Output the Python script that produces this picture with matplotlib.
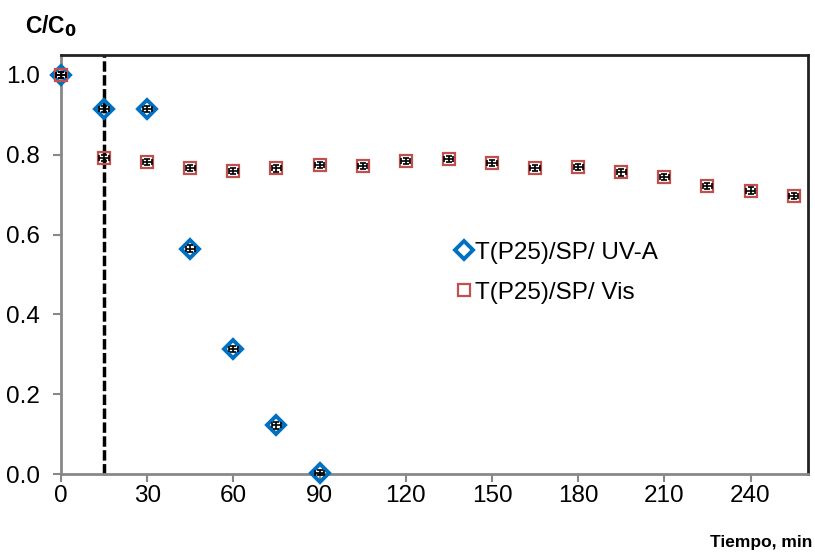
import matplotlib
matplotlib.use("Agg")
import matplotlib.pyplot as plt

plt.rcParams['font.family'] = ['Liberation Sans', 'DejaVu Sans']

# Photocatalytic degradation data: normalized concentration vs time
t_uva = [0, 15, 30, 45, 60, 75, 90]
c_uva = [1.0, 0.915, 0.915, 0.565, 0.313, 0.122, 0.003]
err_uva = [0.008, 0.008, 0.008, 0.008, 0.008, 0.008, 0.006]

t_vis = [0, 15, 30, 45, 60, 75, 90, 105, 120, 135, 150, 165, 180, 195, 210, 225, 240, 255]
c_vis = [1.0, 0.792, 0.782, 0.767, 0.759, 0.766, 0.774, 0.772, 0.784, 0.79, 0.779,
         0.767, 0.770, 0.756, 0.744, 0.722, 0.710, 0.696]
err_vis = [0.008] * len(t_vis)

x_ticks = [0, 30, 60, 90, 120, 150, 180, 210, 240]
y_ticks = [0.0, 0.2, 0.4, 0.6, 0.8, 1.0]
dark_time = 15

labels = ["T(P25)/SP/ UV-A", "T(P25)/SP/ Vis"]

fig = plt.figure(figsize=(8.15, 5.54), dpi=100)
ax = fig.add_axes([0.0748, 0.1444, 0.9166, 0.7563])

ax.axvline(dark_time, color='black', lw=2.5, ls=(0, (3, 1)), zorder=1)

ax.plot(t_uva, c_uva, ls='none', marker='D', ms=9, mfc='none', mec='#0070C0',
        mew=2.8, label=labels[0], zorder=3)
ax.plot(t_vis, c_vis, ls='none', marker='s', ms=8.5, mfc='none', mec='#C0504D',
        mew=1.6, label=labels[1], zorder=3)

ax.errorbar(t_uva, c_uva, yerr=err_uva, xerr=1.6, fmt='none', ecolor='black',
            elinewidth=1.2, capsize=2.5, capthick=1.2, zorder=4)
ax.errorbar(t_vis, c_vis, yerr=err_vis, xerr=1.6, fmt='none', ecolor='black',
            elinewidth=1.2, capsize=2.5, capthick=1.2, zorder=4)

ax.set_xlim(0, 260)
ax.set_ylim(0, 1.05)
ax.set_xticks(x_ticks)
ax.set_yticks(y_ticks)
ax.set_yticklabels([f"{v:.1f}" for v in y_ticks])
ax.tick_params(axis='both', labelsize=17.5, color='#888888', length=6, width=1.5,
               direction='out')
ax.tick_params(axis='y', pad=9)
ax.tick_params(axis='x', pad=2)

for side in ('left', 'bottom'):
    ax.spines[side].set_color('#888888')
    ax.spines[side].set_linewidth(2)
for side in ('top', 'right'):
    ax.spines[side].set_color('#222222')
    ax.spines[side].set_linewidth(2)

for art in ax.lines + ax.collections:
    art.set_clip_on(False)

fig.text(0.031, 0.93, r"C/C$_\mathbf{0}$", fontsize=16.5, fontweight='bold', ha='left', va='bottom')
fig.text(0.997, 0.008, "Tiempo, min", fontsize=12.5, fontweight='bold', ha='right',
         va='bottom', fontstretch='condensed')

leg = ax.legend(loc='upper left', bbox_to_anchor=(0.518, 0.578), frameon=False,
                fontsize=17.5, handlelength=0.5, handletextpad=0.2, labelspacing=0.75,
                borderaxespad=0)

fig.savefig("out.png", dpi=100)
